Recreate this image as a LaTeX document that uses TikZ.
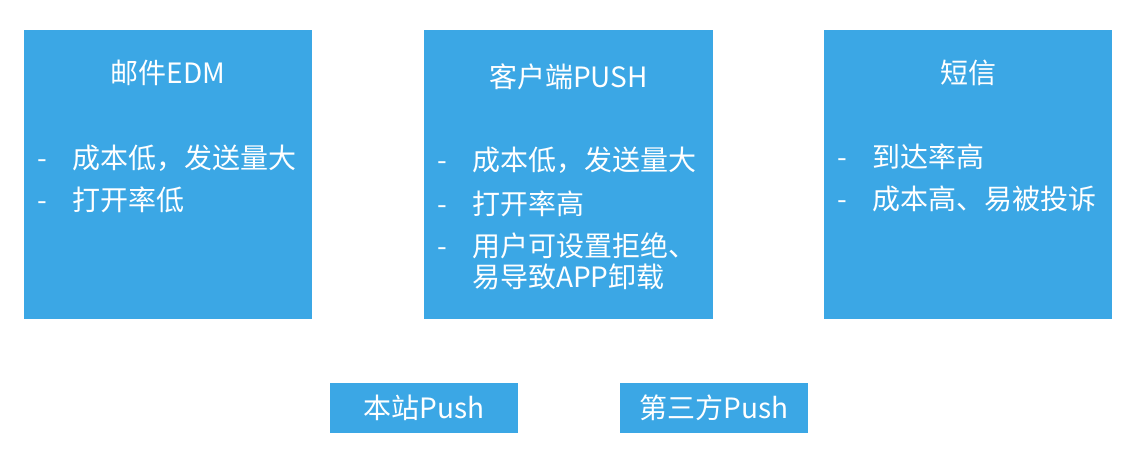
\documentclass[tikz,border=0pt]{standalone}
\usepackage{xcolor}
\usepackage{fontspec}
\usepackage{tikz}
\usetikzlibrary{calc}
\usetikzlibrary{positioning}
\newfontfamily\cjk{Noto Sans CJK SC}
\definecolor{boxblue}{HTML}{3BA7E5}
\tikzset{x=1pt, y=-1pt}
\tikzstyle{card} = [rectangle, fill=boxblue, draw=none, inner sep=0pt]
\tikzstyle{tag} = [rectangle, fill=boxblue, draw=none, inner sep=0pt, minimum width=188pt, minimum height=50pt, text=white, font=\cjk\fontsize{28}{32}\selectfont]
\tikzstyle{word} = [inner sep=0pt, text=white, text height=24.6pt, text depth=3.4pt, font=\cjk\fontsize{28}{32}\selectfont]
\tikzstyle{item} = [word, anchor=west]

\begin{document}
\begin{tikzpicture}
\useasboundingbox [fill=white] (0, 0) rectangle (1136, 458);
% three channels
\node [card, minimum width=288pt, minimum height=289pt] (Mail) at (168, 174.5) {};
\node [card, minimum width=289pt, minimum height=289pt] (App) at (568.5, 174.5) {};
\node [card, minimum width=288pt, minimum height=289pt] (Sms) at (968, 174.5) {};
% titles
\node [word] (MailT) at (168, 73) {邮件EDM};
\node [word] (AppT) at (568.5, 77) {客户端PUSH};
\node [word] (SmsT) at (968, 73) {短信};
% mail
\node [item] (MailD1) at (37, 158) {-};
\node [item] (MailL1) at (72, 158) {成本低，发送量大};
\node [item] (MailD2) at (37, 200) {-};
\node [item] (MailL2) at (72, 200) {打开率低};
% app
\node [item] (AppD1) at (437, 160) {-};
\node [item] (AppL1) at (472, 160) {成本低，发送量大};
\node [item] (AppD2) at (437, 204) {-};
\node [item] (AppL2) at (472, 204) {打开率高};
\node [item] (AppD3) at (437, 246) {-};
\node [item] (AppL3) at (472, 246) {用户可设置拒绝、};
\node [item] (AppL4) at (472, 277) {易导致APP卸载};
% sms
\node [item] (SmsD1) at (837, 157) {-};
\node [item] (SmsL1) at (872, 157) {到达率高};
\node [item] (SmsD2) at (837, 199) {-};
\node [item] (SmsL2) at (872, 199) {成本高、易被投诉};
% push kinds
\node [tag] (Own) at (424, 408) {本站Push};
\node [tag] (Third) at (714, 408) {第三方Push};
\end{tikzpicture}
\end{document}
